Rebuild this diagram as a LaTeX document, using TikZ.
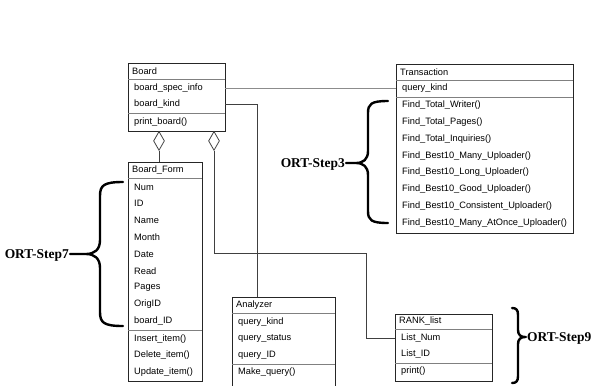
\documentclass[tikz,border=0pt]{standalone}
\usepackage{fontspec}
\setmainfont{Liberation Serif}
\setsansfont{Liberation Sans}
\usetikzlibrary{shapes.geometric}

\tikzset{
  classbox/.style={draw=black!85, line width=0.8bp, anchor=north west,
    inner sep=0, outer sep=0},
  rowtext/.style={anchor=west, inner sep=0,
    font=\sffamily\fontsize{9.3}{10}\selectfont},
  sepline/.style={draw=black!50, line width=0.8bp},
  link/.style={draw=black!75, line width=0.8bp},
  speclink/.style={draw=black!45, line width=0.8bp},
  aggr/.style={diamond, draw=black!75, line width=0.8bp, fill=white,
    inner sep=0, minimum width=11bp, minimum height=19bp, anchor=north},
  curly/.style={line width=2.4bp, line cap=round, line join=round},
  steplabel/.style={inner sep=0, font=\rmfamily\bfseries\fontsize{13.5}{15}\selectfont}
}

% curly brace: #1 end x, #2 spine x, #3 tip x, #4 top y, #5 tip y,
% #6 bottom y, #7 direction of the tip (+1 right, -1 left), #8 curl size
\newcommand\ortcurly[8]{%
  \draw[curly] (#1,#4) .. controls ({#2-(#7)*#8*0.25},#4) and (#2,{#4+#8*0.25}) .. (#2,{#4+#8})
    -- (#2,{#5-#8}) .. controls (#2,{#5-#8*0.3}) and ({#2+(#7)*#8*0.4},#5) .. ({#2+(#7)*#8},#5)
    -- (#3,#5)
    ({#2+(#7)*#8},#5) .. controls ({#2+(#7)*#8*0.4},#5) and (#2,{#5+#8*0.3}) .. (#2,{#5+#8})
    -- (#2,{#6-#8}) .. controls (#2,{#6-#8*0.25}) and ({#2-(#7)*#8*0.25},#6) .. (#1,#6);}

\begin{document}
\begin{tikzpicture}[x=1bp, y=-1bp]
\useasboundingbox (0,0) rectangle (597,385);
\clip (0,0) rectangle (597,385);

% ---- Board ----
\node[classbox, minimum width=97bp, minimum height=68bp] (board) at (128,63) {};
\node[rowtext] (b-title) at (132,71) {Board};
\draw[sepline] (board.west |- 0,79) -- (board.east |- 0,79);
\node[rowtext] (b-spec) at (134,88) {board\_spec\_info};
\node[rowtext] (b-kind) at (134,104.5) {board\_kind};
\draw[sepline] (board.west |- 0,113.5) -- (board.east |- 0,113.5);
\node[rowtext] (b-print) at (134,122) {print\_board()};

% ---- Transaction ----
\node[classbox, minimum width=177bp, minimum height=169bp] (trans) at (396,64) {};
\node[rowtext] (t-title) at (400,72) {Transaction};
\draw[sepline] (trans.west |- 0,80) -- (trans.east |- 0,80);
\node[rowtext] (t-kind) at (402,88.5) {query\_kind};
\draw[sepline] (trans.west |- 0,97) -- (trans.east |- 0,97);
\foreach \txt [count=\i from 0] in {Find\_Total\_Writer(), Find\_Total\_Pages(),
    Find\_Total\_Inquiries(), Find\_Best10\_Many\_Uploader(),
    Find\_Best10\_Long\_Uploader(), Find\_Best10\_Good\_Uploader(),
    Find\_Best10\_Consistent\_Uploader(), Find\_Best10\_Many\_AtOnce\_Uploader()}
  \node[rowtext] (t-op\i) at (402,{105.5+16.75*\i}) {\txt};

% ---- Board_Form ----
\node[classbox, minimum width=74bp, minimum height=219bp] (form) at (128,162) {};
\node[rowtext] (f-title) at (132,170) {Board\_Form};
\draw[sepline] (form.west |- 0,178) -- (form.east |- 0,178);
\foreach \txt [count=\i from 0] in {Num, ID, Name, Month, Date, Read, Pages, OrigID, board\_ID}
  \node[rowtext] (f-att\i) at (134,{187+16.75*\i}) {\txt};
\draw[sepline] (form.west |- 0,330) -- (form.east |- 0,330);
\foreach \txt [count=\i from 0] in {Insert\_item(), Delete\_item(), Update\_item()}
  \node[rowtext] (f-op\i) at (134,{339+16.5*\i}) {\txt};

% ---- Analyzer ----
\node[classbox, minimum width=103bp, minimum height=95bp] (ana) at (232,297) {};
\node[rowtext] (a-title) at (236,305) {Analyzer};
\draw[sepline] (ana.west |- 0,313) -- (ana.east |- 0,313);
\foreach \txt [count=\i from 0] in {query\_kind, query\_status, query\_ID}
  \node[rowtext] (a-att\i) at (238,{322+16.75*\i}) {\txt};
\draw[sepline] (ana.west |- 0,364) -- (ana.east |- 0,364);
\node[rowtext] (a-op) at (238,372.5) {Make\_query()};

% ---- RANK_list ----
\node[classbox, minimum width=97bp, minimum height=67bp] (rank) at (395,314) {};
\node[rowtext] (r-title) at (399,321.5) {RANK\_list};
\draw[sepline] (rank.west |- 0,329) -- (rank.east |- 0,329);
\node[rowtext] (r-num) at (401,338) {List\_Num};
\node[rowtext] (r-id) at (401,354.5) {List\_ID};
\draw[sepline] (rank.west |- 0,363) -- (rank.east |- 0,363);
\node[rowtext] (r-print) at (401,371.5) {print()};

% ---- associations ----
\draw[speclink] (board.east |- b-spec) -- (trans.west |- b-spec);
\coordinate (kindbend) at (257,0);
\draw[link] (board.east |- b-kind) -| (kindbend |- ana.north);

\node[aggr] (agg-form) at (159,131) {};
\node[aggr] (agg-rank) at (214,131) {};
\draw[link] (agg-form.south) -- (agg-form.south |- form.north);
\coordinate (rankbend) at (366,253);
\draw[link] (agg-rank.south) |- (rankbend) |- (rank.west |- r-num);

% ---- step braces ----
\ortcurly{388}{368}{346}{101}{163}{223}{-1}{12}
\node[steplabel, anchor=base east] (step3) at (345,167.5) {ORT-Step3};

\ortcurly{123}{100}{70}{182}{254}{326}{-1}{14}
\node[steplabel, anchor=base east] (step7) at (69,258.5) {ORT-Step7};

\ortcurly{512}{518}{526}{308}{337}{383}{1}{7}
\node[steplabel, anchor=base west] (step9) at (527,341.5) {ORT-Step9};
\end{tikzpicture}
\end{document}
